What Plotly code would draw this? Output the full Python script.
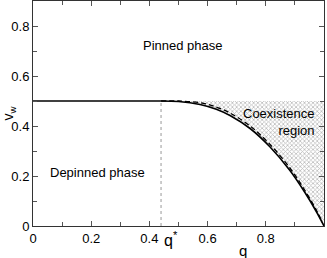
import plotly.graph_objects as go

q_star = 0.44
v_w = 0.5
# solid phase boundary (q, v)
q_solid = [0.44, 0.50, 0.574, 0.63, 0.677, 0.746, 0.814, 0.883, 0.935, 0.975, 1.0]
v_solid = [0.50, 0.498, 0.486, 0.467, 0.442, 0.39, 0.317, 0.222, 0.133, 0.055, 0.0]
# dashed curve (slightly above)
q_dash = [0.44, 0.50, 0.574, 0.63, 0.677, 0.746, 0.814, 0.883, 0.935, 0.975, 0.995]
v_dash = [0.50, 0.500, 0.493, 0.476, 0.452, 0.40, 0.327, 0.232, 0.141, 0.061, 0.012]

x_ticks = [0, 0.2, 0.4, 0.6, 0.8, 1]
x_labels = ["0", "0.2", "0.4", "0.6", "0.8", "1"]
y_ticks = [0, 0.2, 0.4, 0.6, 0.8]
y_labels = ["0", "0.2", "0.4", "0.6", "0.8"]

fig = go.Figure()
# hatched coexistence region
fig.add_trace(go.Scatter(
    x=[q_star, 1.0] + q_solid[::-1], y=[v_w, v_w] + v_solid[::-1],
    fill="toself", mode="none", fillcolor="rgba(255,255,255,0)",
    fillpattern=dict(shape="x", size=3, solidity=0.45, fgcolor="#777777", bgcolor="white"),
    hoverinfo="skip", showlegend=False))
fig.add_trace(go.Scatter(x=[0, q_star], y=[v_w, v_w], mode="lines",
                         line=dict(color="black", width=1.3), showlegend=False))
fig.add_trace(go.Scatter(x=q_solid, y=v_solid, mode="lines",
                         line=dict(color="black", width=1.6, shape="spline", smoothing=1.0), showlegend=False))
fig.add_trace(go.Scatter(x=q_dash, y=v_dash, mode="lines",
                         line=dict(color="black", width=1.3, dash="5px,3px", shape="spline", smoothing=1.0),
                         showlegend=False))
fig.add_trace(go.Scatter(x=[q_star, q_star], y=[0, v_w], mode="lines",
                         line=dict(color="#999999", width=1, dash="dot"), showlegend=False))

ff = "Liberation Sans, Arial, sans-serif"
font = dict(family=ff, size=13, color="black")
fig.add_annotation(x=0.515, y=0.724, text="Pinned phase", showarrow=False, font=font)
fig.add_annotation(x=0.223, y=0.216, text="Depinned phase", showarrow=False, font=font)
fig.add_annotation(x=0.975, y=0.418, text="Coexistence<br>region", showarrow=False,
                   font=font, xanchor="right", align="right")
fig.add_annotation(x=0.474, xref="x", y=-0.058, yref="paper", text="q<sup>*</sup>", showarrow=False,
                   font=dict(family=ff, size=16, color="black"), yanchor="middle")
fig.add_annotation(x=0.722, xref="x", y=-0.108, yref="paper", text="q", showarrow=False,
                   font=dict(family=ff, size=15, color="black"), yanchor="middle")

axis_common = dict(showgrid=False, zeroline=False, showline=True, linecolor="#333333",
                   linewidth=1, mirror="allticks", ticks="inside", ticklen=5,
                   tickcolor="#555555", tickfont=font, automargin=False)
fig.update_xaxes(range=[0, 1], tickvals=x_ticks, ticktext=x_labels,
                 minor=dict(dtick=0.1, ticks="inside", ticklen=4, tickcolor="#555555"),
                 **axis_common)
fig.update_yaxes(range=[0, 0.9], tickvals=y_ticks, ticktext=y_labels,
                 minor=dict(dtick=0.1, ticks="inside", ticklen=4, tickcolor="#555555"),
                 title=dict(text="v<sub>w</sub>", font=dict(family=ff, size=14, color="black"), standoff=5),
                 **axis_common)
fig.update_layout(width=327, height=258, margin=dict(l=33, r=3, t=1, b=32),
                  plot_bgcolor="white", paper_bgcolor="white")
fig.write_html("out.html", config={"displayModeBar": False},
               post_script="document.body.style.margin='0';")
